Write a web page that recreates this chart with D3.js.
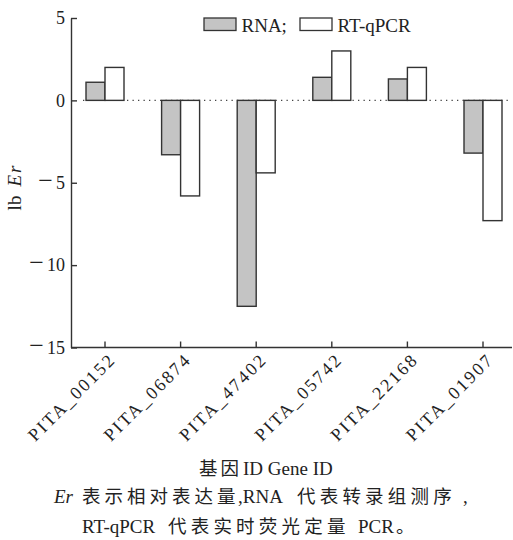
<!DOCTYPE html>
<html><head><meta charset="utf-8">
<script src="https://cdn.jsdelivr.net/npm/d3@7/dist/d3.min.js"></script>
<style>
body{margin:0;background:#fff;}
text{font-family:"Liberation Serif","Times New Roman",Tinos,"DejaVu Serif",serif,"Noto Sans CJK SC";fill:#222;}
.cjk{font-family:"Noto Sans CJK SC","Noto Sans CJK TC",sans-serif;}
</style></head><body>
<svg id="c" width="513" height="540"></svg>
<script>
const genes = ["PITA_00152","PITA_06874","PITA_47402","PITA_05742","PITA_22168","PITA_01907"];
const rnaValues = [1.1, -3.3, -12.5, 1.4, 1.3, -3.2];
const qpcrValues = [2.0, -5.8, -4.4, 3.0, 2.0, -7.3];
const yTicks = [5, 0, -5, -10, -15];
const seriesNames = ["RNA;", "RT-qPCR"];
const seriesFill = ["#c4c4c4", "#ffffff"];

const svg = d3.select("#c");
const axisLeft = 71, axisRight = 512, yTop = 18, yBottom = 347.5;
const y = d3.scaleLinear().domain([5, -15]).range([yTop, yBottom]);
const x = d3.scaleBand().domain(genes).range([67.2, 67.2 + 75.6*6]).padding(0);
const xs = d3.scaleBand().domain([0,1]).range([0, 38]);
const barOff = x.bandwidth()/2 - 19;
const col = "#333";

svg.append("line").attr("x1", 83).attr("x2", 512).attr("y1", y(0)).attr("y2", y(0))
  .attr("stroke", "#444").attr("stroke-width", 1.3).attr("stroke-dasharray", "1.3,4.2");

const series = [rnaValues, qpcrValues];
series.forEach((vals, si) => {
  svg.append("g").selectAll("rect").data(genes).join("rect")
    .attr("x", (g) => x(g) + barOff + xs(si))
    .attr("width", xs.bandwidth())
    .attr("y", (g, i) => y(Math.max(0, vals[i])))
    .attr("height", (g, i) => Math.abs(y(vals[i]) - y(0)))
    .attr("fill", seriesFill[si]).attr("stroke", col).attr("stroke-width", 1.4);
});

const ya = svg.append("g").attr("transform", `translate(${axisLeft},0)`)
  .call(d3.axisLeft(y).tickValues(yTicks).tickSizeInner(-6).tickSizeOuter(0).tickPadding(6));
ya.select(".domain").attr("stroke", col).attr("stroke-width", 1.4);
ya.selectAll(".tick line").attr("stroke", col).attr("stroke-width", 1.4);
ya.selectAll(".tick text").attr("font-size", 18).attr("fill", "#222")
  .each(function(d) {
    const t = d3.select(this);
    if (d < 0) {
      t.text(null);
      t.append("tspan").attr("font-size", 26).text("\u2212");
      t.append("tspan").attr("dx", 3).text(Math.abs(d));
    }
  });

const xa = svg.append("g").attr("transform", `translate(0,${yBottom})`)
  .call(d3.axisBottom(x).tickSizeInner(-6).tickSizeOuter(0));
xa.select(".domain").attr("d", `M${axisLeft},0H${axisRight}`).attr("stroke", col).attr("stroke-width", 1.4);
xa.selectAll(".tick line").attr("stroke", col).attr("stroke-width", 1.4);
xa.selectAll(".tick text")
  .attr("font-size", 18).attr("letter-spacing", "2.3px").attr("fill", "#222")
  .attr("text-anchor", "end").attr("dy", null).attr("y", 0)
  .attr("transform", "translate(12,13) rotate(-45)");

const yl = svg.append("text").attr("transform", "translate(21,187) rotate(-90)")
  .attr("text-anchor", "middle").attr("font-size", 19);
yl.append("tspan").text("lb");
yl.append("tspan").attr("dx", 9).attr("font-style", "italic").attr("letter-spacing", "2px").text("Er");

const lg = svg.append("g");
const legX = [204, 300];
seriesNames.forEach((n, i) => {
  lg.append("rect").attr("x", legX[i]).attr("y", 18).attr("width", 32).attr("height", 12.5)
    .attr("fill", seriesFill[i]).attr("stroke", col).attr("stroke-width", 1.3);
  lg.append("text").attr("x", legX[i] + 37.5).attr("y", 31.5).attr("font-size", 19).text(n);
});

// caption (each piece placed at its own x)
function caption(yp, parts) {
  const t = svg.append("text").attr("y", yp).attr("font-size", 19);
  parts.forEach(p => {
    const s = t.append("tspan").attr("x", p.x).text(p.t);
    if (p.cjk) s.attr("class", "cjk").attr("font-size", 18.5).attr("letter-spacing", p.ls + "px");
    if (p.it) s.attr("font-style", "italic");
  });
}
caption(475, [{t:"基因", x:199, cjk:true, ls:3}, {t:"ID Gene ID", x:243}]);
caption(503, [{t:"Er", x:54, it:true}, {t:"表示相对表达量", x:82, cjk:true, ls:4},
  {t:",RNA", x:238}, {t:"代表转录组测序", x:297, cjk:true, ls:4.2}, {t:",", x:463}]);
caption(533, [{t:"RT-qPCR", x:82}, {t:"代表实时荧光定量", x:168, cjk:true, ls:4.2},
  {t:"PCR", x:358}, {t:"。", x:396, cjk:true, ls:0}]);
</script>
</body></html>
